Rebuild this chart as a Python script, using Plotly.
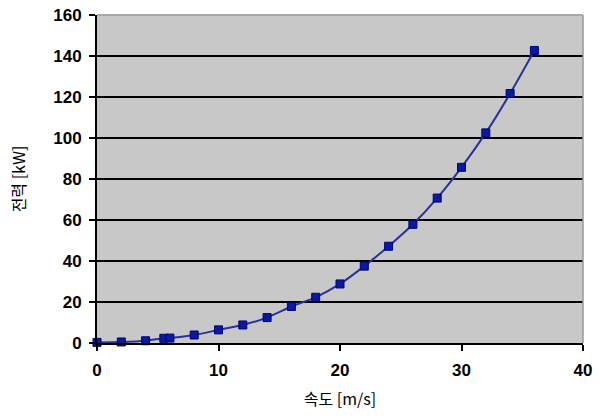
import plotly.graph_objects as go

speed = [0, 2, 4, 5.5, 6, 8, 10, 12, 14, 16, 18, 20, 22, 24, 26, 28, 30, 32, 34, 36]
power = [0.3, 0.5, 1.1, 2.3, 2.4, 3.9, 6.4, 8.8, 12.4, 17.8, 22.3, 28.8, 37.5, 47.2, 57.9, 70.7, 85.7, 102.5, 121.7, 142.7]
x_ticks = [0, 10, 20, 30, 40]
y_ticks = [0, 20, 40, 60, 80, 100, 120, 140, 160]

fig = go.Figure()
fig.add_trace(go.Scatter(
    x=speed, y=power, mode="lines+markers",
    line=dict(color="#2B3296", width=2, shape="spline", smoothing=0.6),
    marker=dict(symbol="square", size=8, color="#0A1A9C", line=dict(color="#000080", width=1)),
    cliponaxis=False, showlegend=False,
))

font_main = "Liberation Sans, Arial, Noto Sans CJK KR, sans-serif"
font_kr = "Noto Sans CJK KR, Liberation Sans, sans-serif"

fig.update_layout(
    width=600, height=417,
    margin=dict(l=97, r=17, t=15, b=74, autoexpand=False),
    paper_bgcolor="white",
    plot_bgcolor="#C8C8C8",
    font=dict(family=font_main, color="black"),
    xaxis=dict(
        range=[0, 40], tickvals=x_ticks, ticktext=[str(v) for v in x_ticks],
        showgrid=False, zeroline=False, automargin=False,
        showline=True, linecolor="black", linewidth=2,
        ticks="outside", ticklen=6, tickwidth=1.5, tickcolor="black",
        ticklabelstandoff=5,
        tickfont=dict(family=font_main, size=17, color="black", weight="bold"),
        title=dict(text="속도 [m/s]", font=dict(family=font_kr, size=16, color="black"), standoff=14),
    ),
    yaxis=dict(
        range=[0, 160], tickvals=y_ticks, ticktext=[str(v) for v in y_ticks],
        showgrid=True, gridcolor="black", gridwidth=1.5, zeroline=False, automargin=False,
        showline=True, linecolor="black", linewidth=2,
        ticks="outside", ticklen=6, tickwidth=1.5, tickcolor="black",
        ticklabelstandoff=4,
        tickfont=dict(family=font_main, size=17, color="black", weight="bold"),
        title=dict(text="전력 [kW]", font=dict(family=font_kr, size=16, color="black"), standoff=24),
    ),
    shapes=[
        dict(type="line", xref="paper", yref="paper", x0=1, x1=1, y0=0, y1=1,
             line=dict(color="#9A9A9A", width=1.5), layer="above"),
        dict(type="line", xref="paper", yref="paper", x0=0, x1=1, y0=1, y1=1,
             line=dict(color="#A8A8A8", width=2), layer="above"),
    ],
)

fig.write_html("out.html")
